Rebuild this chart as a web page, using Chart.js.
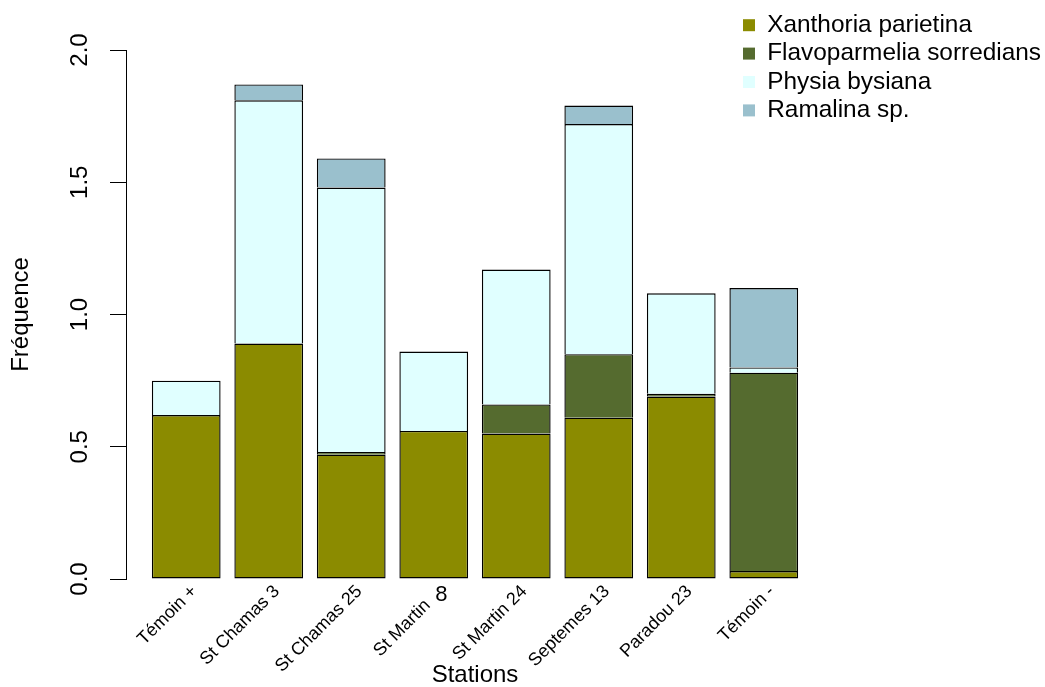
<!DOCTYPE html>
<html>
<head>
<meta charset="utf-8">
<title>Fréquence des lichens par station</title>
<script src="https://cdn.jsdelivr.net/npm/chart.js@4.4.1/dist/chart.umd.min.js"></script>
<style>
  html, body { margin: 0; padding: 0; background: #ffffff; }
  #wrap { width: 1045px; height: 687px; position: relative; }
</style>
</head>
<body>
<div id="wrap"><canvas id="chart"></canvas></div>
<script>
// Stations (one stacked bar each)
const stations = ['Témoin +', 'St Chamas 3', 'St Chamas 25', 'St Martin 8',
                  'St Martin 24', 'Septemes 13', 'Paradou 23', 'Témoin -'];

// Frequency of each lichen species per station (stack segments, bottom to top)
const xanthoria     = [0.62, 0.89, 0.47, 0.56, 0.55, 0.61, 0.69, 0.03];
const flavoparmelia = [0.00, 0.00, 0.01, 0.00, 0.11, 0.24, 0.01, 0.75];
const physia        = [0.13, 0.92, 1.00, 0.30, 0.51, 0.87, 0.38, 0.02];
const ramalina      = [0.00, 0.06, 0.11, 0.00, 0.00, 0.07, 0.00, 0.30];

const speciesNames = ['Xanthoria parietina', 'Flavoparmelia sorredians',
                      'Physia bysiana', 'Ramalina sp.'];
const speciesColors = ['#8B8B00', '#556B2F', '#E0FFFF', '#9AC0CD'];

// Y axis tick values
const yTicks = [0, 0.5, 1.0, 1.5, 2.0];

// The trailing number of this station name is printed upright
const uprightTails = { 'St Martin 8': '8' };

const FONT = "'Liberation Sans', Arial, Helvetica, sans-serif";
Chart.defaults.font.family = FONT;
Chart.defaults.color = '#000000';

const series = [xanthoria, flavoparmelia, physia, ramalina];

const EDGE = 1.4;
const datasets = series.map((vals, k) => ({
  label: speciesNames[k],
  data: vals.map((v, i) => ({ x: i, y: v })),
  backgroundColor: speciesColors[k],
  borderColor: '#000000',
  // upper segments share the top edge of the segment below them
  borderWidth: k === 0 ? EDGE : { top: EDGE, left: EDGE, right: EDGE, bottom: 0 },
  borderSkipped: false,
  barPercentage: 1 / 1.2,
  categoryPercentage: 1
}));

// Moves the legend to the top-right corner of the canvas
const legendCorner = {
  id: 'legendCorner',
  afterLayout(chart) {
    const lg = chart.legend;
    if (!lg) return;
    const w = lg.width, h = lg.height;
    lg.left = 739; lg.top = 9;
    lg.right = lg.left + w; lg.bottom = lg.top + h;
  }
};

// Draws the upright trailing number of a station label
const uprightLabels = {
  id: 'uprightLabels',
  afterDraw(chart) {
    const xs = chart.scales.x;
    const ctx = chart.ctx;
    ctx.save();
    ctx.font = '22px ' + FONT;
    ctx.fillStyle = '#000000';
    ctx.textAlign = 'center';
    ctx.textBaseline = 'middle';
    stations.forEach((name, i) => {
      const tail = uprightTails[name];
      if (!tail) return;
      ctx.fillText(tail, xs.getPixelForValue(i) + 7.5, xs.top + 16);
    });
    ctx.restore();
  }
};

new Chart(document.getElementById('chart'), {
  type: 'bar',
  data: { datasets },
  plugins: [legendCorner, uprightLabels],
  options: {
    responsive: true,
    maintainAspectRatio: false,
    animation: false,
    devicePixelRatio: 1,
    layout: { padding: { top: 50, left: 0, right: 221, bottom: 0 } },
    plugins: {
      tooltip: { enabled: false },
      title: { display: false },
      legend: {
        display: true,
        position: 'chartArea',
        align: 'start',
        labels: {
          font: { size: 24.4, family: FONT },
          color: '#000000',
          boxWidth: 12,
          boxHeight: 12,
          padding: 4,
          generateLabels(chart) {
            return Chart.defaults.plugins.legend.labels.generateLabels(chart)
              .map(it => Object.assign(it, { lineWidth: 0, strokeStyle: 'rgba(0,0,0,0)' }));
          }
        }
      }
    },
    scales: {
      x: {
        type: 'linear',
        stacked: true,
        offset: false,
        min: -0.73,
        max: 7.73,
        grid: { display: false, drawTicks: false, offset: false },
        border: { display: false },
        afterBuildTicks(scale) {
          scale.ticks = stations.map((_, i) => ({ value: i }));
        },
        afterFit(scale) {
          scale.height = 108;
          scale.paddingLeft = 0;
          scale.paddingRight = 0;
        },
        ticks: {
          autoSkip: false,
          minRotation: 45,
          maxRotation: 45,
          padding: 2,
          labelOffset: 8,
          font: { size: 18, family: FONT },
          color: '#000000',
          callback(value) {
            const name = stations[value];
            if (name === undefined) return '';
            const tail = uprightTails[name];
            // leave room for the upright number drawn after the name
            return tail ? name.slice(0, name.length - tail.length).trim() + '\u00A0\u00A0\u00A0\u00A0' : name;
          }
        },
        title: {
          display: true,
          text: 'Stations',
          font: { size: 24, family: FONT, lineHeight: 1 },
          color: '#000000',
          padding: 0
        }
      },
      y: {
        type: 'linear',
        stacked: true,
        min: 0,
        max: 2,
        afterBuildTicks(scale) {
          scale.ticks = yTicks.map(v => ({ value: v }));
        },
        afterFit(scale) { scale.width = 126; },
        grid: {
          drawOnChartArea: false,
          drawTicks: true,
          tickLength: 16,
          color: '#000000',
          lineWidth: 1
        },
        border: { display: true, color: '#000000', width: 1 },
        ticks: {
          minRotation: 90,
          maxRotation: 90,
          crossAlign: 'center',
          padding: 13,
          font: { size: 24, family: FONT },
          color: '#000000',
          callback(value) { return Number(value).toFixed(1); }
        },
        title: {
          display: true,
          text: 'Fréquence',
          font: { size: 24, family: FONT, lineHeight: 1 },
          color: '#000000',
          padding: { top: 9, bottom: 0 }
        }
      }
    }
  }
});
</script>
</body>
</html>
